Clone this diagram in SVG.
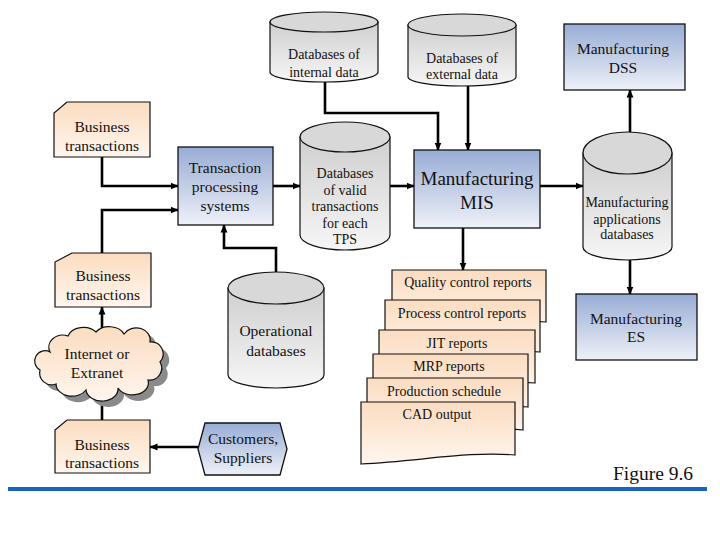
<svg xmlns="http://www.w3.org/2000/svg" width="720" height="540" viewBox="0 0 720 540" font-family="'Liberation Serif', 'Times New Roman', serif">
<defs>
<linearGradient id="gBlue" x1="0" y1="0" x2="0" y2="1"><stop offset="0" stop-color="#98acd5"/><stop offset="1" stop-color="#eef1f8"/></linearGradient>
<linearGradient id="gPeach" x1="0" y1="0" x2="0" y2="1"><stop offset="0" stop-color="#fbdcc0"/><stop offset="1" stop-color="#fff6ee"/></linearGradient>
<linearGradient id="gGray" x1="0" y1="0" x2="0" y2="1"><stop offset="0" stop-color="#cfcfcf"/><stop offset="1" stop-color="#f6f6f6"/></linearGradient>
<marker id="arr" markerUnits="userSpaceOnUse" markerWidth="8" markerHeight="8" refX="7.5" refY="4" orient="auto"><path d="M0,0.5 L8,4 L0,7.5 z" fill="#000"/></marker>
</defs>
<style>
text{font-family:'Liberation Serif','Times New Roman',serif;fill:#111;text-anchor:middle}
.t14{font-size:14px}.t15{font-size:15.5px}.t19{font-size:19px}
.blue{fill:url(#gBlue);stroke:#111;stroke-width:1.3}
.peach{fill:url(#gPeach);stroke:#111;stroke-width:1.2}
.cyl{fill:url(#gGray);stroke:#111;stroke-width:1.2}
.cyltop{fill:#d8d8d8;stroke:#111;stroke-width:1.2}
.conn{fill:none;stroke:#000;stroke-width:2.6}
.arrow{marker-end:url(#arr)}
</style>
<rect width="720" height="540" fill="#fff"/>

<g id="connectors">
<path class="conn arrow" d="M102,157 V186 H178"/>
<path class="conn arrow" d="M102,253 V210 H178"/>
<path class="conn arrow" d="M273,186 H300"/>
<path class="conn arrow" d="M276,272 V248 H224 V225"/>
<path class="conn arrow" d="M390,186 H414"/>
<path class="conn arrow" d="M325,82 V113 H438 V150"/>
<path class="conn arrow" d="M468,86 V150"/>
<path class="conn arrow" d="M540,186 H583"/>
<path class="conn arrow" d="M630,132 V90"/>
<path class="conn arrow" d="M630,260 V294"/>
<path class="conn arrow" d="M463,228 V270"/>
<path class="conn arrow" d="M102,336 V307"/>
<path class="conn arrow" d="M102,420 V394"/>
<path class="conn arrow" d="M198,447 H150"/>
</g>

<g id="db-internal">
<path class="cyl" d="M270,22 V72 A54,10 0 0 0 378,72 V22 Z"/>
<ellipse class="cyltop" cx="324" cy="22" rx="54" ry="10"/>
<text class="t14" x="324" y="59">Databases of</text>
<text class="t14" x="324" y="77">internal data</text>
</g>

<g id="db-external">
<path class="cyl" d="M408,25 V77 A54,9 0 0 0 516,77 V25 Z"/>
<ellipse class="cyltop" cx="462" cy="25" rx="54" ry="11"/>
<text class="t14" x="462" y="63">Databases of</text>
<text class="t14" x="462" y="79">external data</text>
</g>

<g id="dss">
<rect class="blue" x="564" y="24" width="121" height="66"/>
<text class="t15" x="623" y="54">Manufacturing</text>
<text class="t15" x="623" y="73">DSS</text>
</g>

<g id="bt1">
<path class="peach" d="M67,102 H150 V157 H54 V113 Z"/>
<text class="t15" x="102" y="132">Business</text>
<text class="t15" x="102" y="151">transactions</text>
</g>

<g id="tps">
<rect class="blue" x="178" y="147" width="95" height="78"/>
<text class="t15" x="225" y="173">Transaction</text>
<text class="t15" x="225" y="192">processing</text>
<text class="t15" x="225" y="211">systems</text>
</g>

<g id="db-valid">
<path class="cyl" d="M300,137 V235 A45,15 0 0 0 390,235 V137 Z"/>
<ellipse class="cyltop" cx="345" cy="137" rx="45" ry="15"/>
<text class="t14" x="345" y="178">Databases</text>
<text class="t14" x="345" y="194.5">of valid</text>
<text class="t14" x="345" y="211">transactions</text>
<text class="t14" x="345" y="227.5">for each</text>
<text class="t14" x="345" y="244">TPS</text>
</g>

<g id="mis">
<rect class="blue" x="414" y="150" width="126" height="78"/>
<text class="t19" x="477" y="185">Manufacturing</text>
<text class="t19" x="477" y="209">MIS</text>
</g>

<g id="db-apps">
<path class="cyl" d="M583,153 V247 A44.5,13 0 0 0 672,247 V153 Z"/>
<ellipse class="cyltop" cx="627.5" cy="153" rx="44.5" ry="21"/>
<text class="t14" x="627" y="207">Manufacturing</text>
<text class="t14" x="627" y="224">applications</text>
<text class="t14" x="627" y="239">databases</text>
</g>

<g id="bt2">
<path class="peach" d="M72,253 H151 V307 H55 V262 Z"/>
<text class="t15" x="103" y="281">Business</text>
<text class="t15" x="103" y="300">transactions</text>
</g>

<g id="db-operational">
<path class="cyl" d="M228,288 V375 A48,13 0 0 0 324,375 V288 Z"/>
<ellipse class="cyltop" cx="276" cy="288" rx="48" ry="16"/>
<text class="t15" x="276" y="336">Operational</text>
<text class="t15" x="276" y="356">databases</text>
</g>

<g id="es">
<rect class="blue" x="576" y="294" width="121" height="66"/>
<text class="t15" x="636" y="324">Manufacturing</text>
<text class="t15" x="636" y="342">ES</text>
</g>

<g id="cloud">
<path transform="translate(6,6)" fill="#8a8a8a" d="M50,352 A14,12 0 0 1 68,336 A16,12 0 0 1 96,332 A16,12 0 0 1 124,334 A14,12 0 0 1 150,342 A12,12 0 0 1 160,362 A12,12 0 0 1 148,380 A16,12 0 0 1 118,388 A16,12 0 0 1 86,390 A16,12 0 0 1 56,384 A12,12 0 0 1 40,370 A10,10 0 0 1 50,352 Z"/>
<path class="peach" d="M50,352 A14,12 0 0 1 68,336 A16,12 0 0 1 96,332 A16,12 0 0 1 124,334 A14,12 0 0 1 150,342 A12,12 0 0 1 160,362 A12,12 0 0 1 148,380 A16,12 0 0 1 118,388 A16,12 0 0 1 86,390 A16,12 0 0 1 56,384 A12,12 0 0 1 40,370 A10,10 0 0 1 50,352 Z"/>
<text class="t15" x="97" y="359">Internet or</text>
<text class="t15" x="97" y="378">Extranet</text>
</g>

<g id="bt3">
<path class="peach" d="M67,420 H150 V473 H55 V430 Z"/>
<text class="t15" x="102" y="450">Business</text>
<text class="t15" x="102" y="468">transactions</text>
</g>

<g id="customers">
<polygon class="blue" points="198,449 205,423 280,423 287,449 280,475 205,475"/>
<text class="t15" x="243" y="444">Customers,</text>
<text class="t15" x="243" y="463">Suppliers</text>
</g>

<g id="report-quality">
<path class="peach" d="M392,270 H546 V322 C500,318 452,328 392,331 Z"/>
<text class="t14" x="468" y="287">Quality control reports</text>
</g>
<g id="report-process">
<path class="peach" d="M385,300 H540 V352 C494,348 446,358 385,361 Z"/>
<text class="t14" x="462" y="318">Process control reports</text>
</g>
<g id="report-jit">
<path class="peach" d="M379,330 H535 V383 C489,379 440,389 379,392 Z"/>
<text class="t14" x="457" y="348">JIT reports</text>
</g>
<g id="report-mrp">
<path class="peach" d="M373,354 H528 V407 C482,403 434,413 373,416 Z"/>
<text class="t14" x="449" y="371">MRP reports</text>
</g>
<g id="report-production">
<path class="peach" d="M367,378 H523 V430 C477,426 428,436 367,439 Z"/>
<text class="t14" x="444" y="396">Production schedule</text>
</g>
<g id="report-cad">
<path class="peach" d="M361,402 H515 V455 C469,451 421,461 361,464 Z"/>
<text class="t14" x="437" y="419">CAD output</text>
</g>

<g id="caption">
<text x="653" y="480" style="font-size:19.5px">Figure 9.6</text>
<line x1="8" y1="489" x2="707" y2="489" stroke="#1565c0" stroke-width="4"/>
</g>
</svg>
